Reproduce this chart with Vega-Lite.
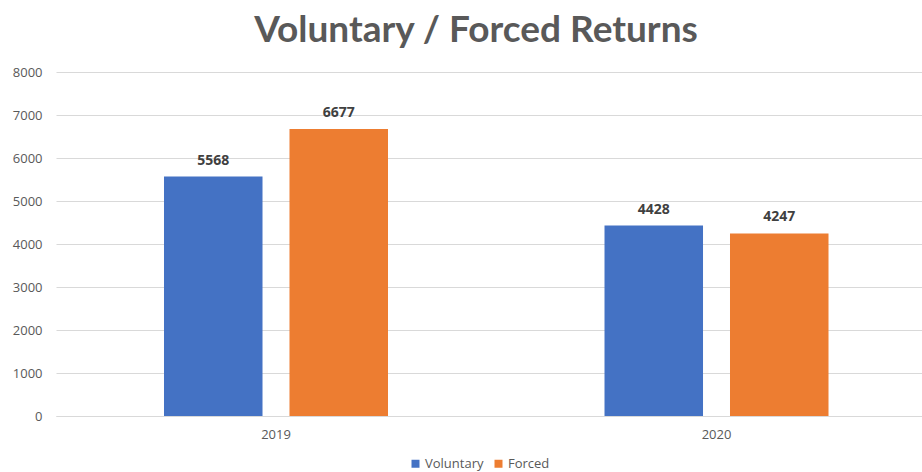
{
  "$schema": "https://vega.github.io/schema/vega-lite/v6.json",
  "width": 866,
  "height": 344,
  "autosize": {"type": "none"},
  "padding": {"left": 56, "top": 72, "right": 0, "bottom": 56},
  "background": "white",
  "config": {"view": {"stroke": null}, "font": "Lato"},
  "title": {"text": "Voluntary / Forced Returns", "fontSize": 37, "font": "Lato", "fontWeight": "bold", "color": "#595959", "anchor": "middle", "dx": -13, "offset": 16},
  "data": {"values": [
    {"year": "2019", "type": "Voluntary", "value": 5568},
    {"year": "2019", "type": "Forced", "value": 6677},
    {"year": "2020", "type": "Voluntary", "value": 4428},
    {"year": "2020", "type": "Forced", "value": 4247}
  ]},
  "encoding": {
    "x": {"field": "year", "type": "nominal", "scale": {"paddingInner": 0.4915, "paddingOuter": 0.2287, "align": 0.536},
      "axis": {"title": null, "labelAngle": 0, "domain": true, "domainColor": "#d9d9d9", "ticks": false, "labelPadding": 12, "labelFontSize": 13, "labelColor": "#595959", "labelFont": "Open Sans"}},
    "xOffset": {"field": "type", "type": "nominal", "sort": ["Voluntary", "Forced"], "scale": {"paddingInner": 0.215, "paddingOuter": 0}},
    "y": {"field": "value", "type": "quantitative", "scale": {"domain": [0, 8000]},
      "axis": {"title": null, "values": [0,1000,2000,3000,4000,5000,6000,7000,8000], "format": "d", "grid": true, "gridColor": "#d9d9d9", "domain": false, "ticks": false, "labelPadding": 14, "labelFontSize": 13, "labelColor": "#595959", "labelFont": "Open Sans"}}
  },
  "layer": [
    {"mark": {"type": "bar"},
     "encoding": {"color": {"field": "type", "type": "nominal", "sort": ["Voluntary", "Forced"],
       "scale": {"domain": ["Voluntary", "Forced"], "range": ["#4472C4", "#ED7D31"]},
       "legend": {"title": null, "orient": "none", "legendX": 353, "legendY": 385, "direction": "horizontal", "symbolType": "square", "symbolSize": 64, "labelFontSize": 13, "labelColor": "#595959", "labelFont": "Open Sans", "columnPadding": 8, "symbolOffset": 0, "labelOffset": 3}}}},
    {"mark": {"type": "text", "baseline": "bottom", "dy": -9, "fontSize": 14, "fontWeight": "bold", "color": "#404040", "font": "Open Sans"},
     "encoding": {"text": {"field": "value", "type": "quantitative", "format": "d"}}}
  ]
}
